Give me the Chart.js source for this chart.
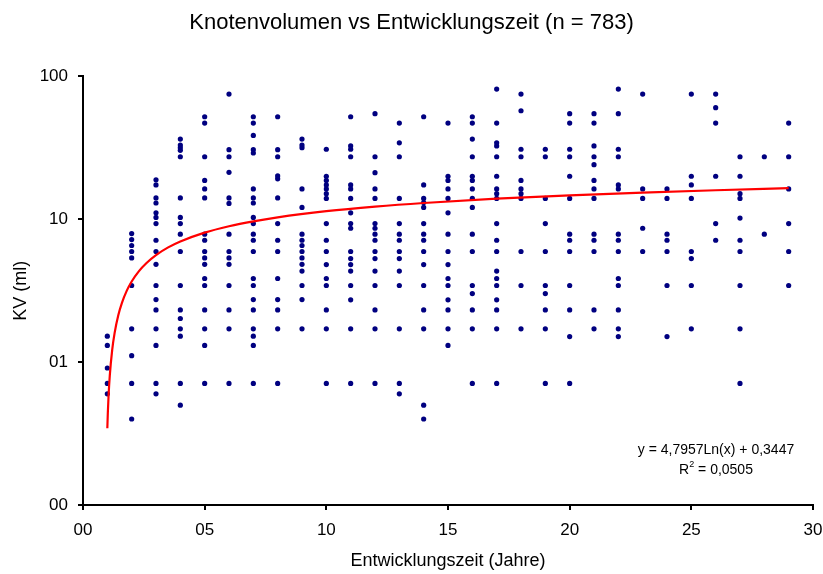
<!DOCTYPE html>
<html>
<head>
<meta charset="utf-8">
<script src="https://cdn.jsdelivr.net/npm/chart.js@4.4.1/dist/chart.umd.min.js"></script>
<style>
    body { margin: 0; background: #fff; }
    canvas { display: block; }
</style>
</head>
<body>
<canvas id="kvChart" width="823" height="574"></canvas>
<script>
// Data (KV in ml per development year)
const years = [1, 2, 3, 4, 5, 6, 7, 8, 9, 10, 11, 12, 13, 14, 15, 16, 17, 18, 19, 20, 21, 22, 23, 24, 25, 26, 27, 28, 29];

const volumesByYear = [
    [1.52, 1.31, 0.91, 0.71, 0.6],
    [7.94, 7.21, 6.55, 5.95, 5.36, 3.44, 1.71, 1.11, 0.71, 0.4],
    [18.9, 17.4, 14.1, 13.0, 11.1, 10.3, 9.33, 7.13, 5.95, 4.84, 3.44, 2.74, 2.32, 1.71, 1.31, 0.71, 0.6],
    [36.4, 33.1, 31.7, 30.4, 27.4, 14.1, 10.3, 9.33, 7.86, 5.95, 3.44, 2.32, 2.02, 1.71, 1.52, 0.71, 0.5],
    [52.2, 47.1, 27.4, 18.7, 16.3, 14.1, 7.86, 7.13, 5.95, 5.36, 4.84, 3.85, 3.44, 2.32, 1.71, 1.31, 0.71],
    [75.2, 30.7, 27.4, 21.3, 14.1, 12.9, 7.86, 5.95, 5.36, 4.84, 3.44, 2.32, 1.71, 0.71],
    [52.2, 47.1, 38.6, 30.7, 29.1, 16.3, 14.1, 13.0, 10.3, 9.33, 7.86, 7.13, 5.95, 3.85, 3.44, 2.74, 2.32, 1.71, 1.52, 1.31, 0.71],
    [52.2, 30.7, 27.4, 20.1, 19.2, 14.1, 9.33, 7.13, 5.95, 3.85, 2.74, 2.32, 1.71, 0.71],
    [36.4, 33.1, 31.7, 16.3, 12.1, 7.86, 7.13, 6.55, 5.95, 5.36, 4.84, 4.34, 3.44, 2.74, 1.71],
    [30.9, 20.0, 18.7, 17.4, 16.3, 15.1, 14.0, 9.33, 7.13, 5.95, 4.82, 3.85, 3.44, 2.32, 1.71, 0.71],
    [52.2, 32.6, 30.9, 27.4, 17.4, 16.3, 14.0, 11.1, 9.33, 8.65, 5.95, 5.31, 4.82, 4.34, 3.44, 2.73, 1.71, 0.71],
    [54.8, 27.4, 21.2, 16.3, 14.0, 9.33, 8.65, 7.86, 7.13, 5.95, 5.31, 4.34, 3.44, 2.32, 1.71, 0.71],
    [47.1, 34.3, 27.4, 14.0, 9.33, 7.86, 7.13, 5.95, 5.31, 4.34, 3.44, 1.71, 0.71, 0.6],
    [52.2, 17.4, 14.0, 13.1, 12.1, 9.33, 7.86, 7.13, 5.95, 4.82, 3.44, 2.32, 1.71, 0.5, 0.4],
    [47.1, 20.0, 18.7, 16.3, 14.0, 11.1, 7.86, 5.95, 4.82, 3.85, 3.44, 2.73, 2.32, 1.71, 1.31],
    [52.2, 47.1, 36.4, 27.4, 20.0, 18.7, 16.3, 14.0, 12.1, 7.86, 5.95, 3.44, 3.02, 2.32, 1.71, 0.71],
    [81.5, 47.1, 34.3, 32.6, 27.4, 20.0, 16.3, 15.1, 14.0, 9.33, 7.13, 5.95, 4.34, 3.85, 3.44, 2.73, 2.32, 1.71, 0.71],
    [75.2, 57.5, 30.9, 27.4, 18.7, 16.3, 15.1, 14.0, 5.95, 3.44, 1.71],
    [30.9, 27.4, 14.0, 9.33, 5.95, 3.44, 3.02, 2.32, 1.71, 0.71],
    [54.8, 47.1, 30.9, 27.4, 20.0, 14.0, 7.86, 7.13, 5.95, 3.44, 2.32, 1.51, 0.71],
    [54.8, 47.1, 32.6, 27.4, 24.1, 18.7, 16.3, 14.0, 7.86, 7.13, 5.95, 2.32, 1.71],
    [81.5, 54.8, 30.9, 27.4, 17.4, 16.3, 7.86, 7.13, 5.95, 3.85, 3.44, 2.32, 1.71, 1.51],
    [75.2, 16.3, 14.0, 8.65, 5.95],
    [16.3, 14.0, 7.86, 7.13, 5.95, 3.44, 1.51],
    [75.2, 20.0, 17.4, 14.0, 5.95, 5.31, 3.44, 1.71],
    [75.2, 60.4, 47.1, 20.0, 9.33, 7.13],
    [27.4, 20.0, 15.1, 14.0, 10.2, 7.13, 5.95, 3.44, 1.71, 0.71],
    [27.4, 7.86],
    [47.1, 27.4, 16.3, 9.33, 5.95, 3.44]
];

// logarithmic trend line
const trendX = [1, 1.02, 1.05, 1.1, 1.2, 1.3, 1.45, 1.6, 1.8, 2, 2.3, 2.6, 3, 3.5, 4, 5, 6, 7, 8, 10, 12, 14, 17, 20, 23, 26, 29];
const trendY = [0.345, 0.44, 0.579, 0.802, 1.219, 1.603, 2.127, 2.599, 3.164, 3.669, 4.339, 4.927, 5.613, 6.353, 6.993, 8.063, 8.938, 9.677, 10.317, 11.387, 12.262, 13.001, 13.932, 14.711, 15.382, 15.969, 16.493];

const xTickValues = [0, 5, 10, 15, 20, 25, 30];
const xTickLabels = ['00', '05', '10', '15', '20', '25', '30'];
const yTickValues = [0.1, 1, 10, 100];
const yTickLabels = ['00', '01', '10', '100'];

const FONT = "'Liberation Sans', Arial, sans-serif";

document.addEventListener('DOMContentLoaded', () => {
    Chart.defaults.font.family = FONT;
    Chart.defaults.color = '#000';

    const points = [];
    volumesByYear.forEach((vals, i) => {
        vals.forEach(v => points.push({ x: years[i], y: v }));
    });
    const trend = trendX.map((x, i) => ({ x: x, y: trendY[i] }));

    // Equation box, bottom right
    const equationLabel = {
        id: 'equationLabel',
        afterDraw(chart) {
            const ctx = chart.ctx;
            const cx = 716;
            ctx.save();
            ctx.fillStyle = '#000';
            ctx.textBaseline = 'middle';
            ctx.font = '14px ' + FONT;
            ctx.textAlign = 'center';
            ctx.fillText('y = 4,7957Ln(x) + 0,3447', cx, 450);

            // R² with raised 2
            const a = 'R', b = '2', c = ' = 0,0505';
            const wa = ctx.measureText(a).width;
            const wc = ctx.measureText(c).width;
            ctx.font = '9px ' + FONT;
            const wb = ctx.measureText(b).width;
            let x0 = cx - (wa + wb + wc) / 2;
            ctx.textAlign = 'left';
            ctx.font = '14px ' + FONT;
            ctx.fillText(a, x0, 470);
            ctx.font = '9px ' + FONT;
            ctx.fillText(b, x0 + wa, 465);
            ctx.font = '14px ' + FONT;
            ctx.fillText(c, x0 + wa + wb, 470);
            ctx.restore();
        }
    };

    new Chart(document.getElementById('kvChart'), {
        type: 'scatter',
        data: {
            datasets: [
                {
                    type: 'line',
                    label: 'Trend',
                    data: trend,
                    borderColor: '#FF0000',
                    borderWidth: 2.2,
                    pointRadius: 0,
                    fill: false,
                    cubicInterpolationMode: 'monotone',
                    order: 0
                },
                {
                    label: 'KV',
                    data: points,
                    backgroundColor: '#000080',
                    borderWidth: 0,
                    pointRadius: 2.6,
                    order: 1
                }
            ]
        },
        options: {
            responsive: false,
            animation: false,
            layout: { padding: 0 },
            plugins: {
                legend: { display: false },
                tooltip: { enabled: false },
                title: {
                    display: true,
                    text: 'Knotenvolumen vs Entwicklungszeit (n = 783)',
                    font: { size: 22, weight: 'normal' },
                    color: '#000',
                    padding: { top: 10, bottom: 40 }
                }
            },
            scales: {
                x: {
                    type: 'linear',
                    min: 0,
                    max: 30,
                    afterFit: s => {
                        s.height = 69;
                        s.paddingLeft = 0;
                        s.paddingRight = 10;
                    },
                    afterBuildTicks: s => { s.ticks = xTickValues.map(v => ({ value: v })); },
                    border: { color: '#000', width: 2 },
                    grid: { drawOnChartArea: false, color: '#000', lineWidth: 2, tickLength: 5 },
                    ticks: {
                        font: { size: 17 },
                        color: '#000',
                        padding: 10,
                        maxRotation: 0,
                        callback: (v, i) => xTickLabels[i]
                    },
                    title: {
                        display: true,
                        text: 'Entwicklungszeit (Jahre)',
                        font: { size: 18 },
                        color: '#000',
                        padding: { top: 0, bottom: 2 }
                    }
                },
                y: {
                    type: 'logarithmic',
                    min: 0.1,
                    max: 100,
                    afterFit: s => { s.width = 83; },
                    afterBuildTicks: s => { s.ticks = yTickValues.map(v => ({ value: v })); },
                    border: { color: '#000', width: 2 },
                    grid: { drawOnChartArea: false, color: '#000', lineWidth: 2, tickLength: 5 },
                    ticks: {
                        font: { size: 17 },
                        color: '#000',
                        padding: 10,
                        callback: (v, i) => yTickLabels[i]
                    },
                    title: {
                        display: true,
                        text: 'KV (ml)',
                        font: { size: 18 },
                        color: '#000',
                        padding: { top: 10, bottom: 0 }
                    }
                }
            }
        },
        plugins: [equationLabel]
    });
});
</script>
</body>
</html>
